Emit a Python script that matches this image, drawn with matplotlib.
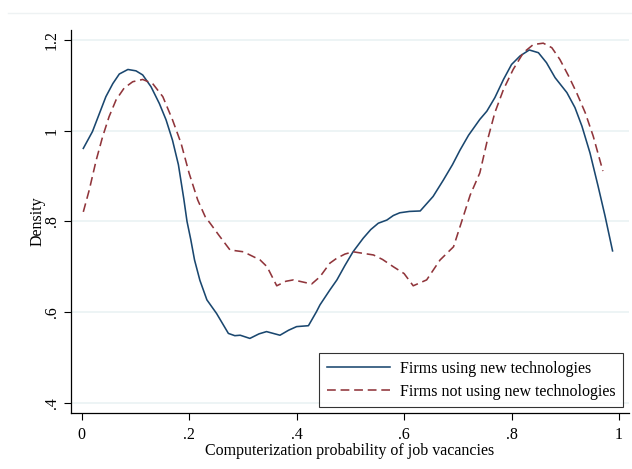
import matplotlib
matplotlib.use("Agg")
import matplotlib.pyplot as plt
from matplotlib.lines import Line2D

# Data
x_users = [0.003, 0.020, 0.033, 0.045, 0.058, 0.070, 0.086, 0.101, 0.1135, 0.129, 0.1445, 0.157, 0.169,
           0.180, 0.190, 0.196, 0.203, 0.210, 0.220, 0.233, 0.251, 0.273, 0.285, 0.295, 0.313, 0.330,
           0.344, 0.369, 0.385, 0.400, 0.422, 0.437, 0.4435, 0.462, 0.475, 0.490, 0.505, 0.524, 0.538,
           0.552, 0.568, 0.580, 0.592, 0.610, 0.630, 0.654, 0.673, 0.690, 0.704, 0.720, 0.741, 0.754,
           0.769, 0.785, 0.800, 0.816, 0.833, 0.850, 0.865, 0.881, 0.903, 0.918, 0.931, 0.946, 0.961,
           0.974, 0.988]
y_users = [0.961, 0.998, 1.038, 1.075, 1.104, 1.125, 1.135, 1.132, 1.123, 1.097, 1.060, 1.024, 0.979,
           0.925, 0.850, 0.800, 0.760, 0.715, 0.670, 0.627, 0.597, 0.553, 0.548, 0.549, 0.542, 0.552,
           0.557, 0.549, 0.560, 0.568, 0.570, 0.601, 0.616, 0.649, 0.671, 0.703, 0.733, 0.763, 0.782,
           0.796, 0.803, 0.813, 0.819, 0.822, 0.823, 0.855, 0.891, 0.925, 0.957, 0.990, 1.025, 1.043,
           1.073, 1.113, 1.146, 1.165, 1.178, 1.172, 1.150, 1.117, 1.084, 1.051, 1.010, 0.951, 0.878,
           0.812, 0.735]

x_nonusers = [0.003, 0.014, 0.027, 0.039, 0.051, 0.064, 0.079, 0.095, 0.1135, 0.132, 0.151, 0.169, 0.185,
              0.200, 0.216, 0.230, 0.239, 0.255, 0.276, 0.301, 0.332, 0.345, 0.363, 0.380, 0.394, 0.428,
              0.4435, 0.462, 0.475, 0.490, 0.505, 0.543, 0.560, 0.580, 0.600, 0.617, 0.642, 0.667, 0.692,
              0.704, 0.723, 0.741, 0.754, 0.769, 0.785, 0.803, 0.822, 0.8405, 0.859, 0.875, 0.890, 0.906,
              0.921, 0.937, 0.952, 0.970]
y_nonusers = [0.821, 0.869, 0.935, 0.987, 1.031, 1.068, 1.094, 1.108, 1.113, 1.104, 1.075, 1.024, 0.972,
              0.906, 0.847, 0.810, 0.796, 0.770, 0.737, 0.733, 0.715, 0.700, 0.658, 0.668, 0.671, 0.662,
              0.678, 0.708, 0.719, 0.728, 0.733, 0.726, 0.716, 0.700, 0.685, 0.658, 0.671, 0.715, 0.744,
              0.788, 0.858, 0.907, 0.974, 1.040, 1.091, 1.135, 1.172, 1.190, 1.193, 1.183, 1.157, 1.121,
              1.084, 1.040, 0.988, 0.911]

x_ticks = [0, 0.2, 0.4, 0.6, 0.8, 1.0]
x_ticklabels = ["0", ".2", ".4", ".6", ".8", "1"]
y_ticks = [0.4, 0.6, 0.8, 1.0, 1.2]
y_ticklabels = [".4", ".6", ".8", "1", "1.2"]
labels = ["Firms using new technologies", "Firms not using new technologies"]

plt.rcParams['font.family'] = ['Liberation Serif', 'DejaVu Serif']

W, H = 632, 469
fig = plt.figure(figsize=(W / 100, H / 100), dpi=100)
fig.patch.set_facecolor('white')
ax = fig.add_axes([71 / W, 1 - 412.7 / H, (629 - 71) / W, (412.7 - 30) / H])

navy = '#1a476f'
maroon = '#90353b'
ax.plot(x_users, y_users, color=navy, lw=1.15, label=labels[0])
ax.plot(x_nonusers, y_nonusers, color=maroon, lw=1.15, dashes=(5.5, 3.0), label=labels[1])

ax.set_xlim(-0.0199, 1.0186)
ax.set_ylim(1.2 - (412.7 - 40) / 453.5, 1.2 + 10 / 453.5)

fs = 11.5
ax.set_xticks(x_ticks)
ax.set_xticklabels(x_ticklabels)
ax.set_yticks(y_ticks)
ax.set_yticklabels(y_ticklabels, rotation=90, va='center')
ax.tick_params(axis='both', direction='out', length=5, width=0.8, labelsize=fs, colors='black')
ax.tick_params(axis='x', pad=5)
ax.tick_params(axis='y', pad=3)

for s in ['top', 'right']:
    ax.spines[s].set_visible(False)
for s in ['left', 'bottom']:
    ax.spines[s].set_linewidth(0.9)

ax.yaxis.grid(True, color='#eaf2f3', lw=1.2)
ax.set_axisbelow(True)

ax.set_xlabel("Computerization probability of job vacancies", fontsize=fs, labelpad=0)
ax.set_ylabel("Density", fontsize=fs, labelpad=-1)

leg = ax.legend(loc='lower right', bbox_to_anchor=(0.989, 0.015), fontsize=fs,
                frameon=True, fancybox=False, edgecolor='black', handlelength=4.0,
                borderpad=0.45, labelspacing=0.45, handletextpad=0.6, borderaxespad=0)
leg.get_frame().set_linewidth(0.8)

# faint top border line of the graph region
fig.add_artist(Line2D([8 / W, 1], [1 - 13 / H, 1 - 13 / H], color='#eef2f3', lw=1,
                      transform=fig.transFigure))

fig.savefig("out.png", dpi=100, facecolor='white')
